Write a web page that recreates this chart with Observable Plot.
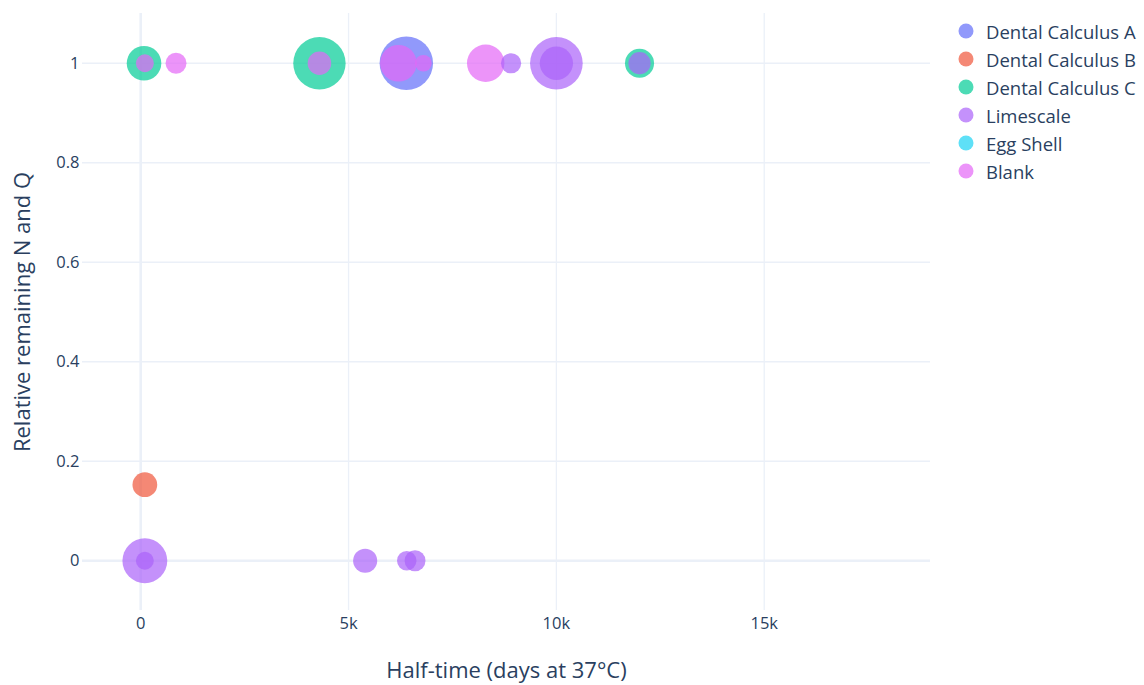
<!DOCTYPE html>
<html>
<head>
<meta charset="utf-8">
<script src="https://cdn.jsdelivr.net/npm/d3@7"></script>
<script src="https://cdn.jsdelivr.net/npm/@observablehq/plot@0.6"></script>
<style>
  html, body { margin: 0; padding: 0; background: #fff; }
  #wrap { position: relative; width: 1144px; height: 685px; font-family: "Open Sans", sans-serif; }
  #legend { position: absolute; left: 958px; top: 17px; color: #2a3f5f; font-size: 18.5px; }
  #legend .item { display: flex; align-items: center; height: 28px; white-space: nowrap; }
  #legend svg { margin-right: 12px; }
</style>
</head>
<body>
<div id="wrap"><div id="legend"></div></div>
<script>
// Series (legend order = drawing order)
const series = ["Dental Calculus A", "Dental Calculus B", "Dental Calculus C", "Limescale", "Egg Shell", "Blank"];
const colors = ["#636efa", "#ef553b", "#00cc96", "#ab63fa", "#19d3f3", "#e466f6"];

// Values per series: half-time (days), relative remaining N and Q, bubble size
const calcA_x = [6390];
const calcA_y = [1];
const calcA_s = [98];

const calcB_x = [100];
const calcB_y = [0.153];
const calcB_s = [21];

const calcC_x = [80, 4300, 12000];
const calcC_y = [1, 1, 1];
const calcC_s = [41, 94, 29];

const lime_x = [8910, 10000, 10000, 12000, 100, 100, 5400, 6400, 6600];
const lime_y = [1, 1, 1, 1, 0, 0, 0, 0, 0];
const lime_s = [14, 95, 38, 17, 69, 11, 20, 13, 15];

const egg_x = [];
const egg_y = [];
const egg_s = [];

const blank_x = [100, 850, 4300, 6200, 6800, 8300];
const blank_y = [1, 1, 1, 1, 1, 1];
const blank_s = [11, 15, 19, 46, 9.5, 48];

const xTicks = [0, 5000, 10000, 15000];
const yTicks = [0, 0.2, 0.4, 0.6, 0.8, 1];

const groups = [
  [calcA_x, calcA_y, calcA_s],
  [calcB_x, calcB_y, calcB_s],
  [calcC_x, calcC_y, calcC_s],
  [lime_x, lime_y, lime_s],
  [egg_x, egg_y, egg_s],
  [blank_x, blank_y, blank_s]
];
const rows = [];
groups.forEach(([xs, ys, ss], i) => {
  xs.forEach((x, j) => rows.push({series: series[i], x, y: ys[j], s: ss[j]}));
});

const grid = "#ebf0f8";
const chart = Plot.plot({
  width: 1144,
  height: 685,
  marginLeft: 82,
  marginRight: 214,
  marginTop: 13,
  marginBottom: 75,
  style: {fontFamily: "'Open Sans', sans-serif", color: "#2a3f5f", background: "transparent"},
  x: {domain: [-1400, 19000]},
  y: {domain: [-0.1, 1.1]},
  r: {type: "sqrt", domain: [0, 100], range: [0, 27]},
  color: {domain: series, range: colors},
  marks: [
    Plot.gridX(xTicks.filter(d => d !== 0), {stroke: grid, strokeOpacity: 1, strokeWidth: 1.3}),
    Plot.gridY(yTicks.filter(d => d !== 0), {stroke: grid, strokeOpacity: 1, strokeWidth: 1.3}),
    Plot.ruleX([0], {stroke: grid, strokeWidth: 2.6}),
    Plot.ruleY([0], {stroke: grid, strokeWidth: 2.6}),
    Plot.axisX(xTicks, {tickSize: 0, tickPadding: 7, fontSize: 16.5, label: null, fill: "#2a3f5f",
      tickFormat: d => d === 0 ? "0" : (d / 1000) + "k"}),
    Plot.axisY(yTicks, {tickSize: 0, tickPadding: 3, fontSize: 16.5, label: null, fill: "#2a3f5f",
      tickFormat: d => String(d)}),
    Plot.dot(rows, {x: "x", y: "y", r: "s", fill: "series", fillOpacity: 0.7, stroke: null}),
    Plot.text(["Half-time (days at 37°C)"], {text: d => d, frameAnchor: "bottom", dy: 60,
      lineAnchor: "middle", textAnchor: "middle", fontSize: 22, fill: "#2a3f5f"}),
    Plot.text(["Relative remaining N and Q"], {text: d => d, frameAnchor: "left", dx: -60,
      rotate: -90, lineAnchor: "middle", textAnchor: "middle", fontSize: 22, fill: "#2a3f5f"})
  ]
});
const wrap = document.getElementById("wrap");
wrap.insertBefore(chart, wrap.firstChild);

// Legend
const legend = document.getElementById("legend");
series.forEach((name, i) => {
  const item = document.createElement("div");
  item.className = "item";
  item.innerHTML = `<svg width="16" height="16"><circle cx="8" cy="8" r="7.5" fill="${colors[i]}" fill-opacity="0.7"/></svg><span>${name}</span>`;
  legend.appendChild(item);
});
</script>
</body>
</html>
